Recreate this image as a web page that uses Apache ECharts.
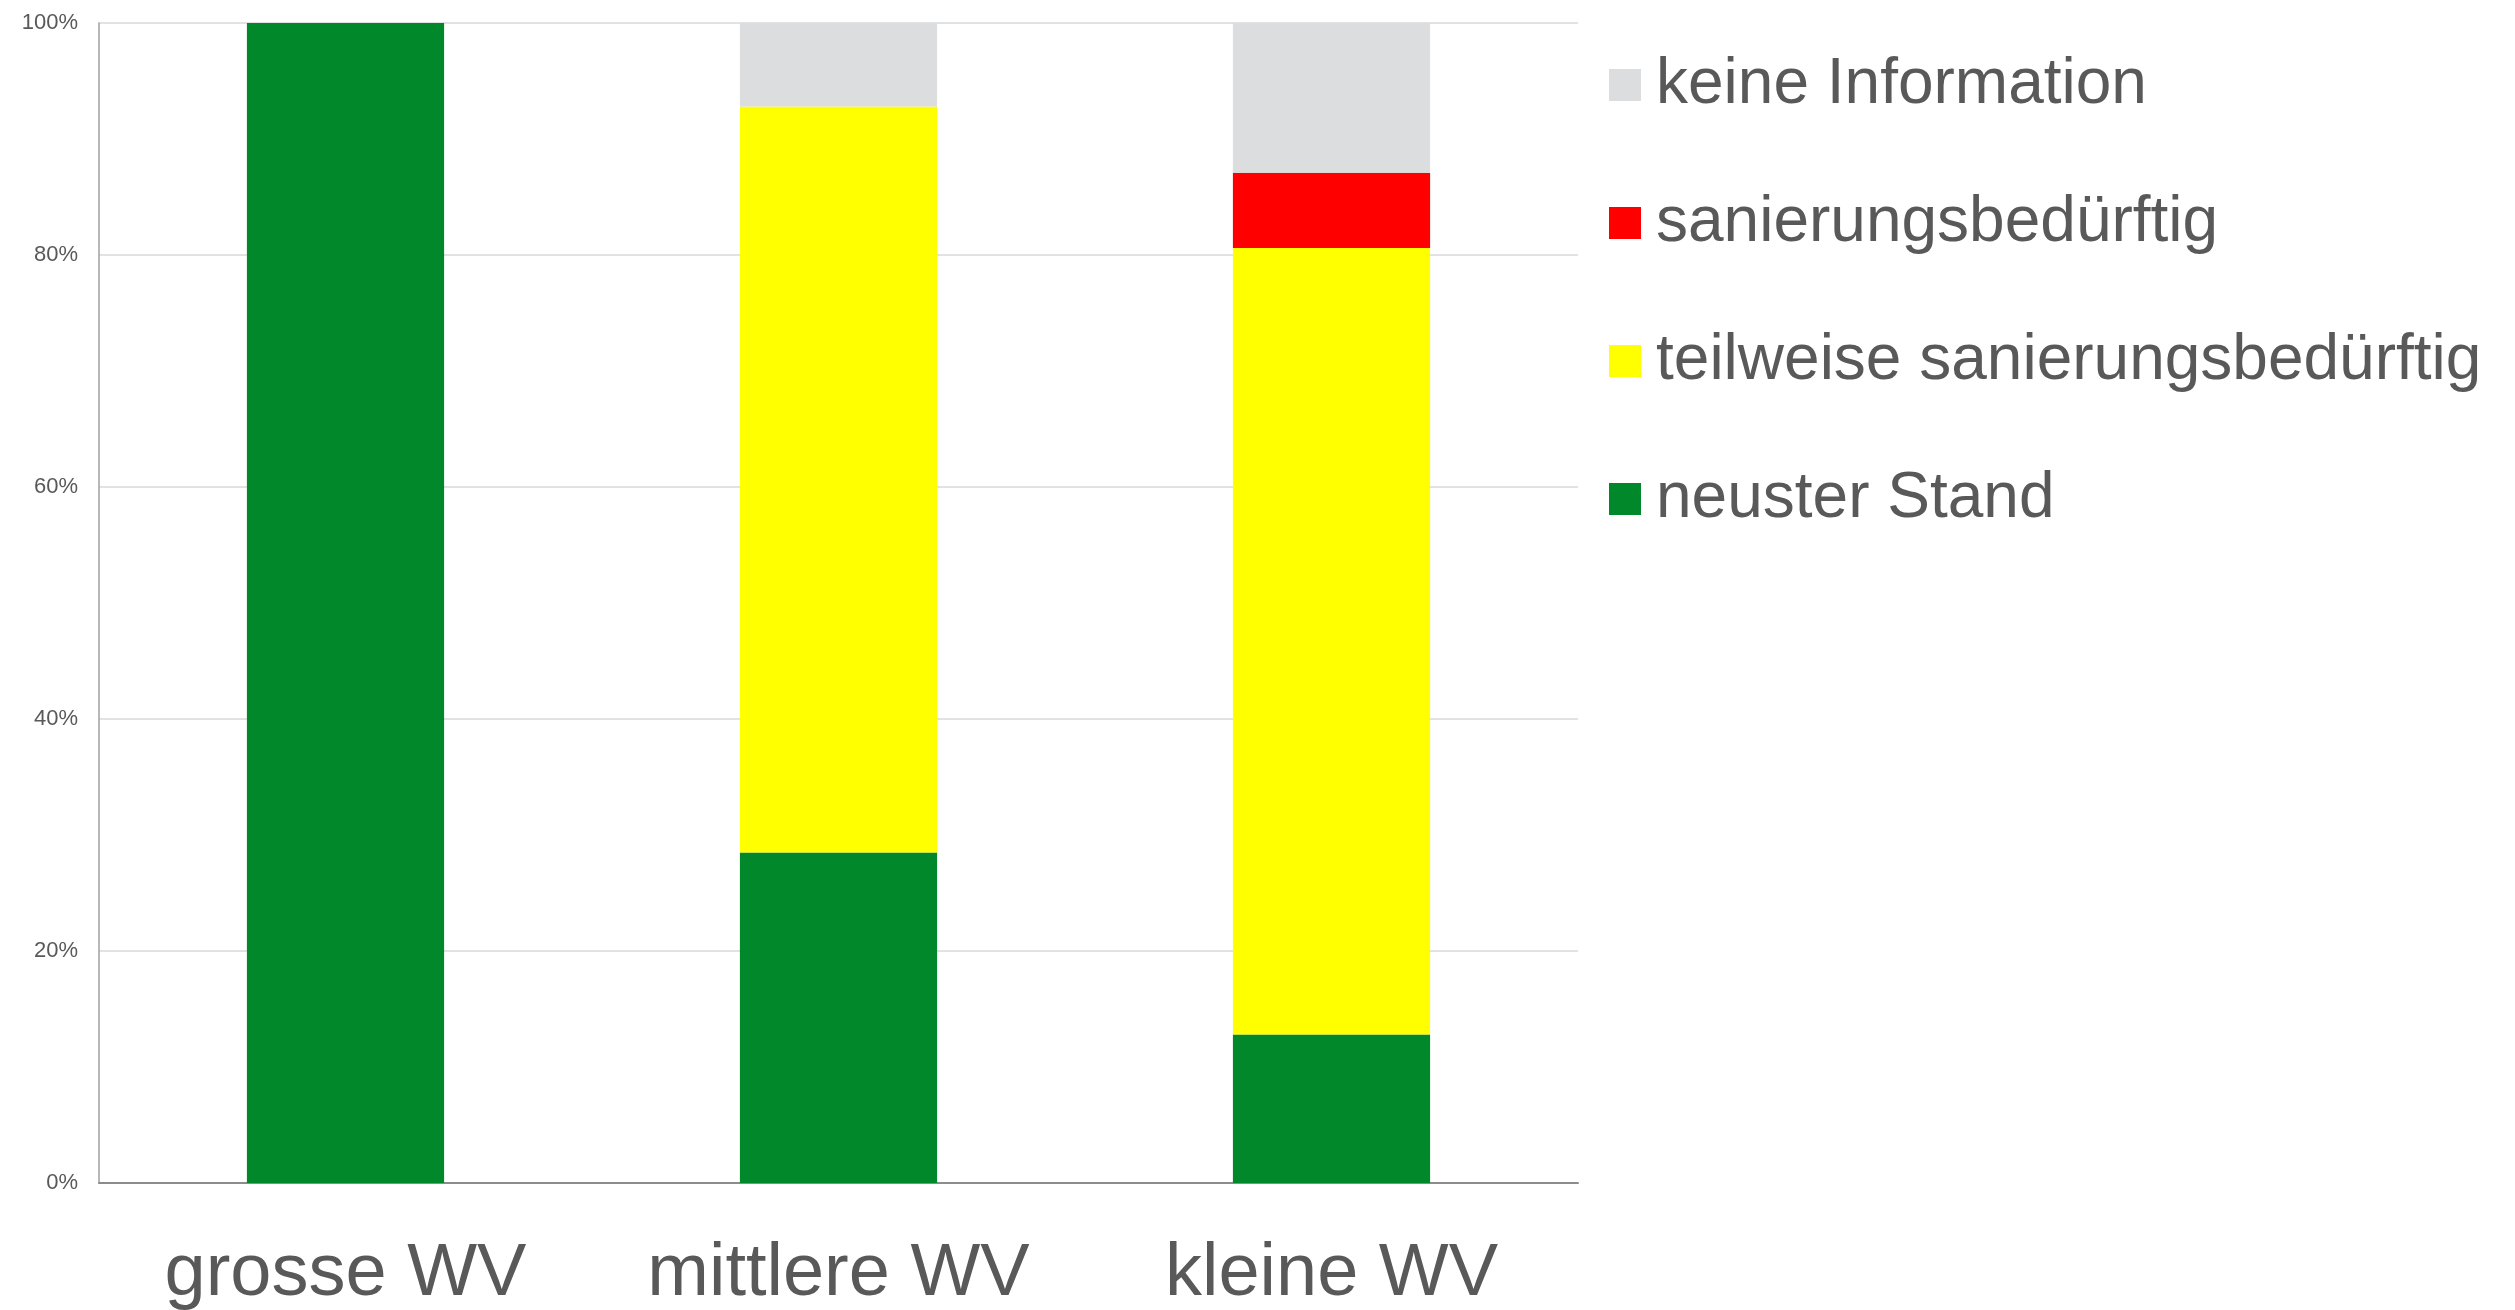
<!DOCTYPE html>
<html>
<head>
<meta charset="utf-8">
<script src="https://cdn.jsdelivr.net/npm/echarts@6/dist/echarts.min.js"></script>
<style>
  html, body { margin: 0; padding: 0; background: #fff; }
  #chart { width: 2515px; height: 1310px; }
</style>
</head>
<body>
<div id="chart"></div>
<script>
const categories = ['grosse WV', 'mittlere WV', 'kleine WV']
const neusterStand = [100, 28.5, 12.8]
const teilweise = [0, 64.3, 67.8]
const saniert = [0, 0, 6.5]
const keineInfo = [0, 7.2, 12.9]
const yTicks = [0, 20, 40, 60, 80, 100]

const fontFamily = '"Liberation Sans", Arial, sans-serif'
const textColor = '#595959'

const seriesDefs = [
  { name: 'neuster Stand', data: neusterStand, color: '#00882b' },
  { name: 'teilweise sanierungsbedürftig', data: teilweise, color: '#ffff00' },
  { name: 'sanierungsbedürftig', data: saniert, color: '#ff0000' },
  { name: 'keine Information', data: keineInfo, color: '#dcdddf' },
]

const chart = echarts.init(document.getElementById('chart'))

chart.setOption({
  animation: false,
  backgroundColor: '#fff',
  grid: {
    left: 99,
    right: 937,
    top: 23,
    bottom: 127,
    containLabel: false,
    outerBoundsMode: 'none',
  },
  legend: {
    orient: 'vertical',
    left: 1604,
    top: 48,
    itemWidth: 32,
    itemHeight: 32,
    itemGap: 74,
    icon: 'rect',
    data: ['keine Information', 'sanierungsbedürftig', 'teilweise sanierungsbedürftig', 'neuster Stand'],
    textStyle: {
      color: textColor,
      fontFamily,
      fontSize: 64,
      lineHeight: 64,
      padding: [0, 0, 0, 10],
    },
  },
  xAxis: {
    type: 'category',
    data: categories,
    axisTick: { show: false },
    axisLine: { lineStyle: { color: '#8c8c8c', width: 2 } },
    axisLabel: {
      interval: 0,
      color: textColor,
      fontFamily,
      fontSize: 74,
      margin: 55,
    },
  },
  yAxis: {
    type: 'value',
    min: yTicks[0],
    max: yTicks[yTicks.length - 1],
    interval: 20,
    axisLine: { show: true, lineStyle: { color: '#a0a0a0', width: 1.5 } },
    axisTick: { show: false },
    splitLine: { lineStyle: { color: '#d9d9d9', width: 1.5 } },
    axisLabel: {
      formatter: '{value}%',
      color: textColor,
      fontFamily,
      fontSize: 22,
      margin: 21,
    },
  },
  series: seriesDefs.map((s) => ({
    name: s.name,
    type: 'bar',
    stack: 'total',
    barWidth: '40%',
    data: s.data,
    itemStyle: { color: s.color },
    emphasis: { disabled: true },
  })),
})
</script>
</body>
</html>
